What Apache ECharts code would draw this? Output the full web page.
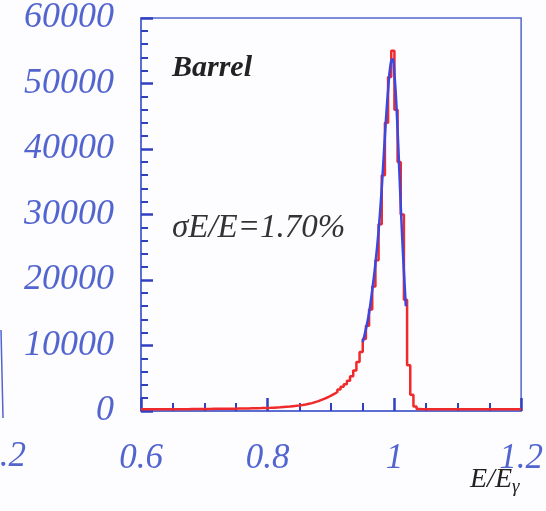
<!DOCTYPE html>
<html style="height: 100%">
<head>
<meta charset="utf-8">
<script src="https://cdn.jsdelivr.net/npm/echarts@6/dist/echarts.min.js"></script>
</head>
<body style="height: 100%; margin: 0; background: #fdfdff">
<div id="container" style="width: 546px; height: 511px"></div>
<script type="text/javascript">
// histogram of E/E_gamma, bins of 0.005 starting at 0.6
var binStart = 0.6;
var binWidth = 0.005;
var counts = [
    250, 250, 255, 255, 260, 260, 265, 265, 270, 270,        // 0.600 - 0.645
    275, 275, 280, 280, 285, 290, 295, 300, 305, 310,        // 0.650 - 0.695
    315, 320, 325, 330, 335, 340, 345, 350, 355, 360,        // 0.700 - 0.745
    370, 380, 390, 400, 410, 420, 430, 440, 455, 470,        // 0.750 - 0.795
    485, 510, 540, 570, 610, 650, 690, 740, 790, 850,        // 0.800 - 0.845
    920, 1000, 1100, 1200, 1350, 1500, 1700, 1900, 2100, 2350, // 0.850 - 0.895
    2600, 2900, 3300, 3700, 4100, 4600, 5300, 6200, 7500, 9000, // 0.900 - 0.945
    11000, 13000, 15500, 19000, 23000, 28500, 36000, 44000, 51000, 55000, // 0.950 - 0.995
    46000, 38000, 30000, 17000, 7000, 2500, 700, 300, 280, 280, // 1.000 - 1.045
    280, 280, 280, 280, 280, 280, 280, 280, 280, 280,        // 1.050 - 1.095
    280, 280, 280, 280, 280, 280, 280, 280, 280, 280,        // 1.100 - 1.145
    280, 280, 280, 280, 280, 280, 280, 280, 280, 280         // 1.150 - 1.195
];

// fitted curve over the peak
var fitX = [0.950, 0.955, 0.960, 0.965, 0.970, 0.975, 0.980, 0.985, 0.990, 0.994, 0.997, 1.000, 1.004, 1.008, 1.012, 1.016, 1.018];
var fitY = [10500, 12500, 15000, 18500, 22500, 27500, 34000, 42000, 49000, 53000, 53700, 51500, 45000, 36000, 27000, 19500, 16000];

var xTicks = [0.6, 0.8, 1, 1.2];
var labelText = 'Barrel';
var resText = 'σE/E=1.70%';

var blue = '#5265cf';
var tickBlue = '#3040c0';
var labelFont = 'Liberation Serif';

var histData = [];
for (var i = 0; i < counts.length; i++) {
    histData.push([+(binStart + i * binWidth).toFixed(3), counts[i]]);
}
histData.push([+(binStart + counts.length * binWidth).toFixed(3), counts[counts.length - 1]]);

var fitData = [];
for (var j = 0; j < fitX.length; j++) {
    fitData.push([fitX[j], fitY[j]]);
}

var myChart = echarts.init(document.getElementById('container'));

var option = {
    backgroundColor: '#fdfdff',
    animation: false,
    grid: {
        left: 141, right: 23, top: 18, bottom: 100,
        show: true, borderColor: blue, borderWidth: 1.5
    },
    xAxis: {
        type: 'value',
        min: 0.6, max: 1.2, interval: 0.2,
        axisLine: { show: true, onZero: false, lineStyle: { color: blue, width: 1.5 } },
        axisTick: { show: true, inside: true, length: 13, lineStyle: { color: tickBlue, width: 2.5 } },
        minorTick: { show: true, splitNumber: 4, length: 8, lineStyle: { color: tickBlue, width: 2 } },
        splitLine: { show: false },
        axisLabel: {
            margin: 30,
            fontFamily: labelFont, fontStyle: 'italic', fontSize: 35, color: blue,
            formatter: function (v) {
                for (var k = 0; k < xTicks.length; k++) {
                    if (Math.abs(v - xTicks[k]) < 1e-6) return String(xTicks[k]);
                }
                return '';
            }
        }
    },
    yAxis: {
        type: 'value',
        min: 0, max: 60000, interval: 10000,
        axisLine: { show: true, lineStyle: { color: blue, width: 1.5 } },
        axisTick: { show: true, inside: true, length: 12, lineStyle: { color: tickBlue, width: 2.5 } },
        minorTick: { show: true, splitNumber: 5, length: 7, lineStyle: { color: tickBlue, width: 2 } },
        splitLine: { show: false },
        axisLabel: {
            margin: 27,
            fontFamily: labelFont, fontStyle: 'italic', fontSize: 36, color: blue,
            formatter: function (v) { return String(v); }
        }
    },
    series: [
        {
            type: 'line',
            step: 'end',
            data: histData,
            symbol: 'none',
            lineStyle: { color: '#f02a2a', width: 2.5 },
            z: 2
        },
        {
            type: 'line',
            smooth: true,
            data: fitData,
            symbol: 'none',
            lineStyle: { color: '#3a48e0', width: 2.5 },
            z: 3
        }
    ],
    graphic: [
        {
            type: 'text', left: 172, top: 53,
            style: { text: labelText, fontFamily: labelFont, fontStyle: 'italic', fontWeight: 'bold', fontSize: 30, fill: '#222' }
        },
        {
            type: 'text', left: 172, top: 212,
            style: { text: resText, fontFamily: labelFont, fontStyle: 'italic', fontSize: 33, fill: '#333' }
        },
        {
            type: 'text', left: 470, top: 466,
            style: {
                text: '{a|E/E}{b|γ}',
                rich: {
                    a: { fontFamily: labelFont, fontStyle: 'italic', fontSize: 28, fill: '#222', color: '#222' },
                    b: { fontFamily: labelFont, fontStyle: 'italic', fontSize: 19, fill: '#222', color: '#222', padding: [14, 0, 0, 0] }
                }
            }
        },
        // fragments of the neighbouring panel on the left
        {
            type: 'text', x: 26, y: 457,
            style: { text: '1.2', align: 'right', verticalAlign: 'middle', fontFamily: labelFont, fontStyle: 'italic', fontSize: 35, fill: blue }
        },
        {
            type: 'line',
            shape: { x1: 1, y1: 330, x2: 3, y2: 418 },
            style: { stroke: blue, lineWidth: 1.5 }
        }
    ]
};

myChart.setOption(option);
</script>
</body>
</html>
